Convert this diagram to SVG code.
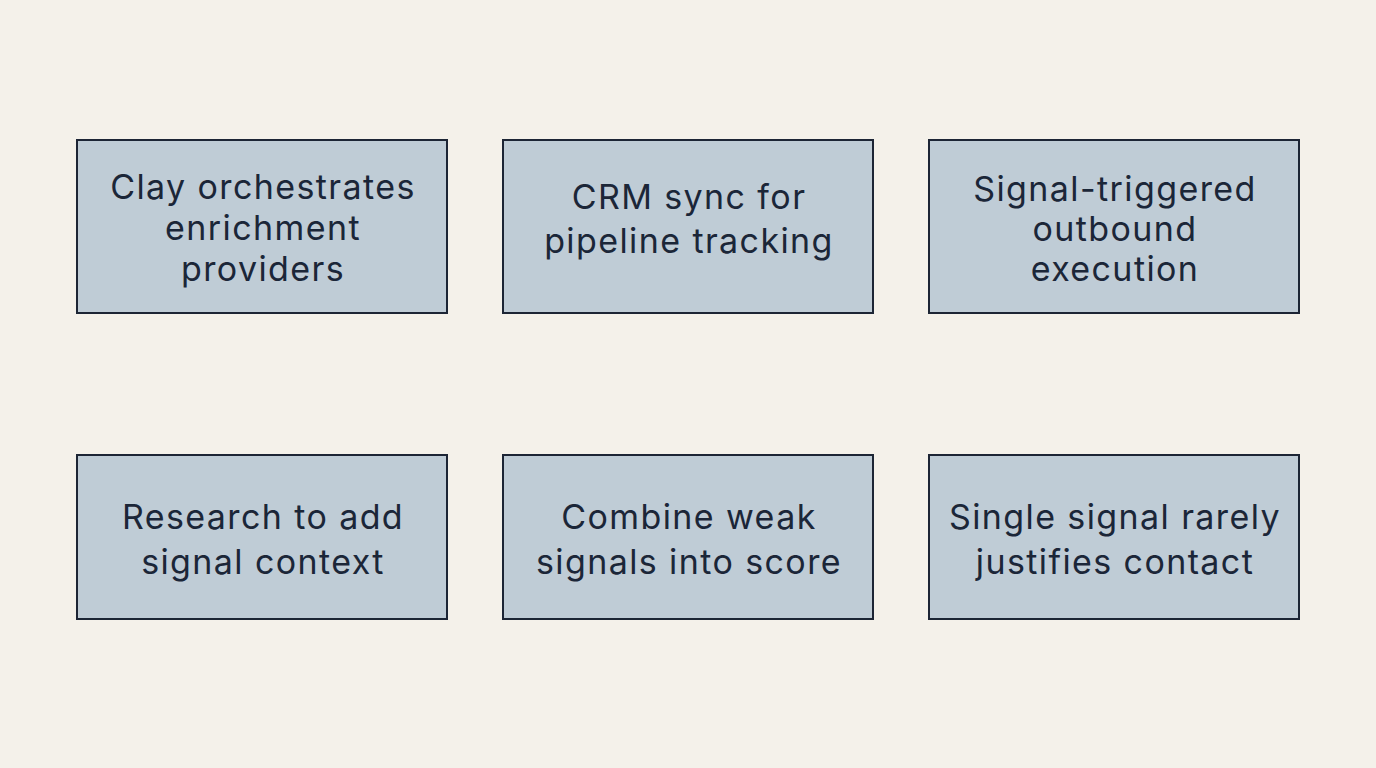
<svg xmlns="http://www.w3.org/2000/svg" width="1376" height="768" viewBox="0 0 1376 768">
<style>
.box{fill:#bfccd6;stroke:#1c2535;stroke-width:2}
.t{font-family:Inter,"Noto Sans","Liberation Sans",sans-serif;font-size:34px;letter-spacing:1.4px;fill:#1b2638;text-anchor:middle}
</style>
<rect width="1376" height="768" fill="#f4f1ea"/>
<g id="n1"><rect class="box" x="77" y="140" width="370" height="173"/>
<text class="t" x="263" y="199">Clay orchestrates</text><text class="t" x="263" y="240">enrichment</text><text class="t" x="263" y="281">providers</text></g>
<g id="n2"><rect class="box" x="503" y="140" width="370" height="173"/>
<text class="t" x="689" y="209">CRM sync for</text><text class="t" x="689" y="253">pipeline tracking</text></g>
<g id="n3"><rect class="box" x="929" y="140" width="370" height="173"/>
<text class="t" x="1115" y="201">Signal-triggered</text><text class="t" x="1115" y="241">outbound</text><text class="t" x="1115" y="281">execution</text></g>
<g id="n4"><rect class="box" x="77" y="455" width="370" height="164"/>
<text class="t" x="263" y="529">Research to add</text><text class="t" x="263" y="574">signal context</text></g>
<g id="n5"><rect class="box" x="503" y="455" width="370" height="164"/>
<text class="t" x="689" y="529">Combine weak</text><text class="t" x="689" y="574">signals into score</text></g>
<g id="n6"><rect class="box" x="929" y="455" width="370" height="164"/>
<text class="t" x="1115" y="529">Single signal rarely</text><text class="t" x="1115" y="574">justifies contact</text></g>
<g id="connectors"></g>
</svg>
